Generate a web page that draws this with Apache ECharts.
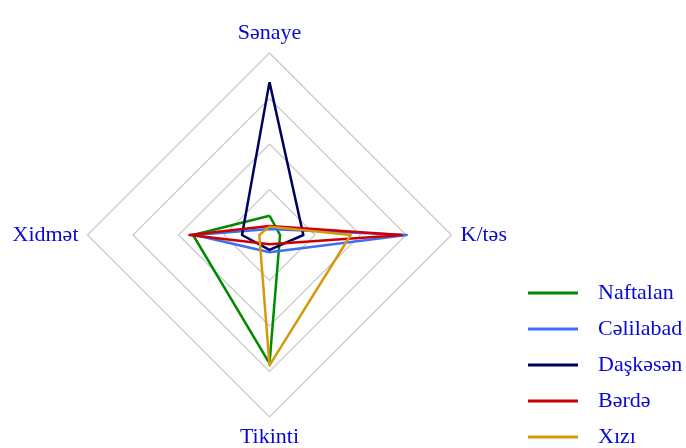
<!DOCTYPE html>
<html>
<head>
<meta charset="utf-8">
<script src="https://cdn.jsdelivr.net/npm/echarts@6/dist/echarts.min.js"></script>
<style>
  html, body { margin: 0; padding: 0; background: #fff; }
  #chart { width: 686px; height: 448px; }
</style>
</head>
<body>
<div id="chart"></div>
<script>
// oxlar: yuxarı, sol, aşağı, sağ (echarts saat əqrəbinin əksinə düzür)
var indicators = ['Sənaye', 'Xidmət', 'Tikinti', 'K/təs'];
var regions = ['Naftalan', 'Cəlilabad', 'Daşkəsən', 'Bərdə', 'Xızı'];
var colors = ['#008a00', '#3d6ff5', '#00005e', '#cc0000', '#d49a0a'];

var naftalan  = [10.6, 42, 70.5, 5.8];
var celilabad = [3.3, 41, 9.5, 75.4];
var daskesen  = [84, 15.1, 8.2, 18.6];
var berde     = [5.0, 44, 5.1, 72.6];
var xizi      = [4.6, 5.6, 71.6, 44.6];

var values = [naftalan, celilabad, daskesen, berde, xizi];

var myChart = echarts.init(document.getElementById('chart'));

var seriesData = [];
for (var i = 0; i < regions.length; i++) {
    seriesData.push({
        name: regions[i],
        value: values[i],
        lineStyle: { color: colors[i], width: 2.5 },
        itemStyle: { color: colors[i] }
    });
}

var option = {
    animation: false,
    textStyle: { fontFamily: 'Liberation Serif' },
    legend: {
        orient: 'vertical',
        left: 528,
        top: 282,
        height: 168,
        padding: 0,
        itemWidth: 50,
        itemHeight: 3,
        itemGap: 14,
        icon: 'rect',
        data: regions,
        textStyle: { color: '#0808d4', fontSize: 22, fontFamily: 'Liberation Serif', padding: [0, 0, 0, 15] }
    },
    radar: {
        center: [269.5, 235],
        radius: 182,
        shape: 'polygon',
        splitNumber: 4,
        nameGap: 9,
        indicator: indicators.map(function (n) { return { name: n, max: 100 }; }),
        axisName: { color: '#0808d4', fontSize: 22, fontFamily: 'Liberation Serif' },
        axisLine: { show: false },
        axisTick: { show: false },
        splitArea: { show: false },
        splitLine: { lineStyle: { color: '#c8c8c8', width: 1.2 } }
    },
    series: [{
        type: 'radar',
        symbol: 'none',
        data: seriesData
    }]
};

myChart.setOption(option);
</script>
</body>
</html>
